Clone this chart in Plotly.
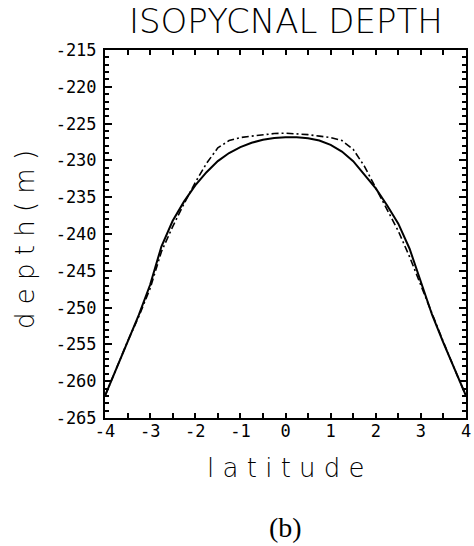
import plotly.graph_objects as go

latitude = [-4.0, -3.75, -3.5, -3.25, -3.0, -2.75, -2.5, -2.25, -2.0, -1.75, -1.5, -1.25, -1.0,
            -0.75, -0.5, -0.25, 0.0, 0.25, 0.5, 0.75, 1.0, 1.25, 1.5, 1.75, 2.0, 2.25, 2.5,
            2.75, 3.0, 3.25, 3.5, 3.75, 4.0]

depth_solid = [-262.0, -258.3, -254.7, -251.0, -246.9, -241.7, -238.2, -235.6, -233.4, -231.6,
               -230.1, -229.0, -228.2, -227.6, -227.2, -226.95, -226.85, -226.85, -227.0, -227.3,
               -227.9, -228.8, -230.1, -231.9, -233.8, -236.1, -238.6, -242.0, -246.5, -251.0,
               -254.8, -258.4, -262.0]

depth_dashed = [-262.0, -258.3, -254.6, -251.2, -247.4, -242.4, -239.0, -235.9, -233.0, -230.4,
                -228.3, -227.3, -226.9, -226.7, -226.5, -226.35, -226.3, -226.35, -226.5, -226.7,
                -226.9, -227.3, -228.5, -230.8, -233.7, -236.5, -239.6, -243.1, -247.0, -251.0,
                -254.7, -258.4, -262.0]

x_ticks = [-4, -3, -2, -1, 0, 1, 2, 3, 4]
y_ticks = [-215, -220, -225, -230, -235, -240, -245, -250, -255, -260, -265]

title_text = "ISOPYCNAL DEPTH"
xlabel_text = "l a t i t u d e"
ylabel_text = "d e p t h ( m )"
panel_text = "(b)"

mono = "DejaVu Sans Mono"
sans = "DejaVu Sans"

fig = go.Figure()
fig.add_trace(go.Scatter(x=latitude, y=depth_solid, mode="lines",
                         line=dict(color="black", width=2), showlegend=False))
fig.add_trace(go.Scatter(x=latitude, y=depth_dashed, mode="lines",
                         line=dict(color="black", width=1.6, dash="7px,3px,2px,3px"),
                         showlegend=False))

axis_common = dict(showgrid=False, zeroline=False, showline=True, linecolor="black",
                   linewidth=2, mirror="allticks", ticks="inside", tickcolor="black",
                   tickwidth=1.5, ticklabeloverflow="allow",
                   tickfont=dict(family=mono, size=17, color="black"))

fig.update_xaxes(range=[-4, 4], tickvals=x_ticks, ticktext=[str(v) for v in x_ticks],
                 ticklen=5, ticklabelstandoff=-3,
                 minor=dict(dtick=0.5, tick0=0, ticks="inside", ticklen=5,
                            tickcolor="black", tickwidth=1.5),
                 **axis_common)
fig.update_yaxes(range=[-265, -215], tickvals=y_ticks, ticktext=[str(v) for v in y_ticks],
                 ticklen=7, ticklabelstandoff=3,
                 minor=dict(dtick=1, tick0=0, ticks="inside", ticklen=4,
                            tickcolor="black", tickwidth=1.5),
                 **axis_common)

fig.update_layout(
    width=474, height=546,
    margin=dict(l=105, r=3, t=50, b=128),
    paper_bgcolor="white", plot_bgcolor="white",
    annotations=[
        dict(text=title_text, xref="paper", yref="paper", x=0.5, y=1 + 29 / 368,
             xanchor="center", yanchor="middle", showarrow=False,
             font=dict(family=sans, size=34, color="black", weight=200)),
        dict(text=xlabel_text, xref="paper", yref="paper", x=0.5, y=-50 / 368,
             xanchor="center", yanchor="middle", showarrow=False,
             font=dict(family=sans, size=26, color="black", weight=200)),
        dict(text=ylabel_text, xref="paper", yref="paper", x=-81 / 366, y=178 / 368,
             xanchor="center", yanchor="middle", showarrow=False, textangle=-90,
             font=dict(family=sans, size=26, color="black", weight=200)),
        dict(text=panel_text, xref="paper", yref="paper", x=0.5, y=-109 / 368,
             xanchor="center", yanchor="middle", showarrow=False,
             font=dict(family="Liberation Serif", size=28, color="black")),
    ],
)

fig.write_html("out.html")
